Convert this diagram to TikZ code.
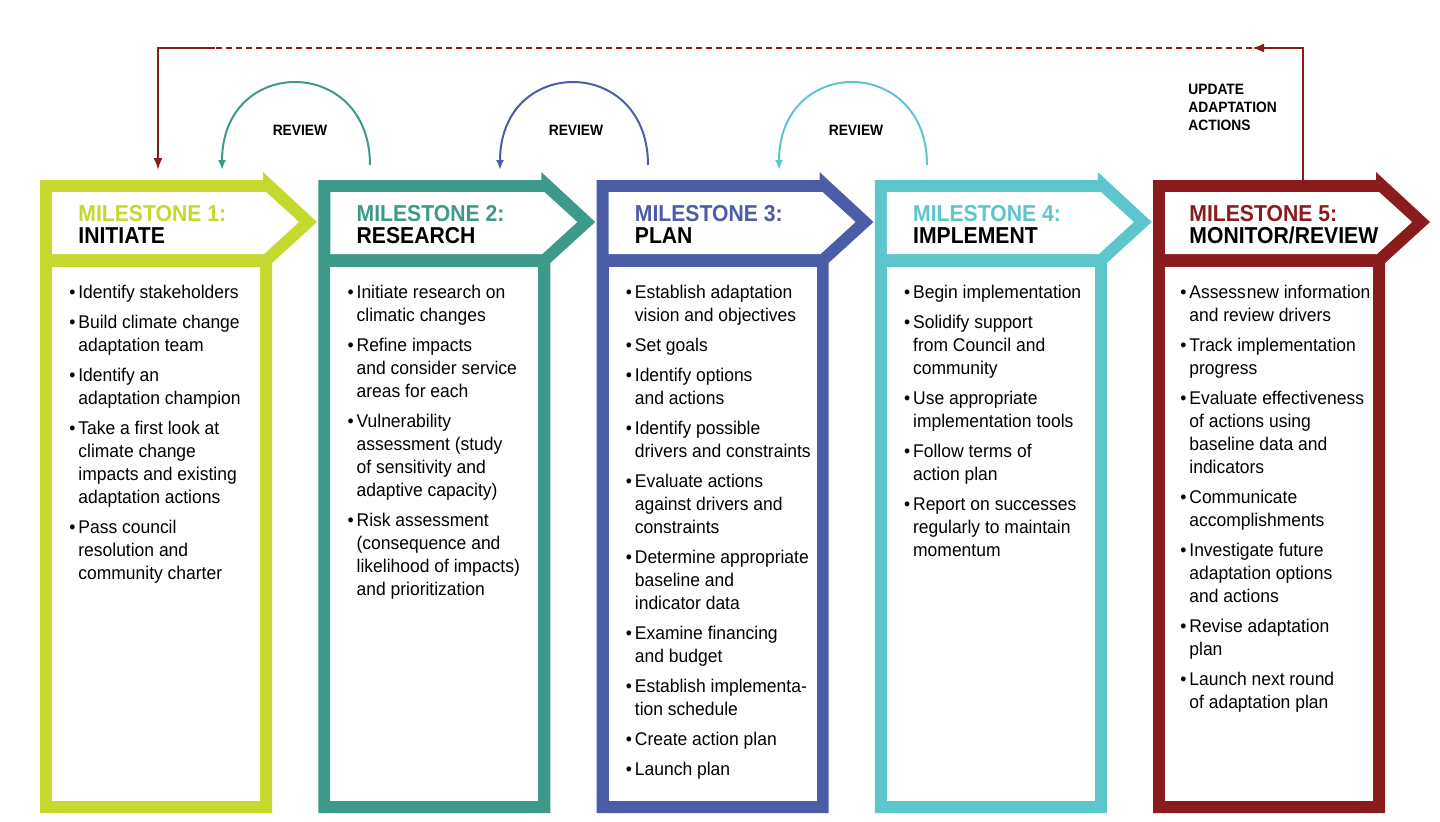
\documentclass[tikz,border=0pt]{standalone}
\usepackage{fontspec}
\setmainfont{Liberation Sans}
\newfontfamily\bodyfont{Liberation Sans}[FakeStretch=0.95]
\newfontfamily\headfont{Liberation Sans}[FakeStretch=0.92]
\usetikzlibrary{arrows.meta,positioning}
\definecolor{limecol}{HTML}{C4D82E}
\definecolor{tealcol}{HTML}{3D9A8B}
\definecolor{indigocol}{HTML}{4B5DA6}
\definecolor{cyancol}{HTML}{5CC6CC}
\definecolor{redcol}{HTML}{8A1C1C}
\newcommand{\pitch}{278.25}
\newcommand{\igap}{3.5pt}
\newcommand{\itm}{\llap{\textbullet\hspace{1.5pt}}}
\newcommand{\msframe}[1]{%
\fill[#1] (0,180) -- (223,180) -- (223,172) -- (277,222) -- (232,263) -- (232,813) -- (0,813) -- cycle;
\fill[white] (12,192) -- (226,192) -- (259,222) -- (224,254) -- (12,254) -- cycle;
\fill[white] (12,267) rectangle (220,801);}

\begin{document}
\begin{tikzpicture}[x=0.5pt,y=-0.5pt,
  headtxt/.style={anchor=north west,inner sep=0pt,align=left,font=\headfont\bfseries\fontsize{11.5}{11}\selectfont},
  bodytxt/.style={anchor=north west,inner sep=0pt,align=left,font=\bodyfont\fontsize{9.2}{11.5}\selectfont},
  smalllbl/.style={inner sep=0pt,font=\headfont\bfseries\fontsize{7.5}{9}\selectfont},
  revarrow/.style={line width=1pt,-{Latex[length=5pt,width=4pt]}},
  looparrow/.style={redcol,line width=1pt}]
\useasboundingbox (0,0) rectangle (1440,821);
%1
\begin{scope}[shift={(40,0)}]
\msframe{limecol}
\node[headtxt] (h1) at (38,205) {\textcolor{limecol}{MILESTONE 1:}\\INITIATE};
\node[bodytxt] (b1) at (38,285) {\itm Identify stakeholders\\[\igap]
\itm Build climate change\\adaptation team\\[\igap]
\itm Identify an\\adaptation champion\\[\igap]
\itm Take a first look at\\climate change\\impacts and existing\\adaptation actions\\[\igap]
\itm Pass council\\resolution and\\community charter};
\end{scope}
%2
\begin{scope}[shift={(40+\pitch,0)}]
\msframe{tealcol}
\node[headtxt] (h2) at (38,205) {\textcolor{tealcol}{MILESTONE 2:}\\RESEARCH};
\node[bodytxt] (b2) at (38,285) {\itm Initiate research on\\climatic changes\\[\igap]
\itm Refine impacts\\and consider service\\areas for each\\[\igap]
\itm Vulnerability\\assessment (study\\of sensitivity and\\adaptive capacity)\\[\igap]
\itm Risk assessment\\(consequence and\\likelihood of impacts)\\and prioritization};
\end{scope}
%3
\begin{scope}[shift={(40+2*\pitch,0)}]
\msframe{indigocol}
\node[headtxt] (h3) at (38,205) {\textcolor{indigocol}{MILESTONE 3:}\\PLAN};
\node[bodytxt] (b3) at (38,285) {\itm Establish adaptation\\vision and objectives\\[\igap]
\itm Set goals\\[\igap]
\itm Identify options\\and actions\\[\igap]
\itm Identify possible\\drivers and constraints\\[\igap]
\itm Evaluate actions\\against drivers and\\constraints\\[\igap]
\itm Determine appropriate\\baseline and\\indicator data\\[\igap]
\itm Examine financing\\and budget\\[\igap]
\itm Establish implementa-\\tion schedule\\[\igap]
\itm Create action plan\\[\igap]
\itm Launch plan};
\end{scope}
%4
\begin{scope}[shift={(40+3*\pitch,0)}]
\msframe{cyancol}
\node[headtxt] (h4) at (38,205) {\textcolor{cyancol}{MILESTONE 4:}\\IMPLEMENT};
\node[bodytxt] (b4) at (38,285) {\itm Begin implementation\\[\igap]
\itm Solidify support\\from Council and\\community\\[\igap]
\itm Use appropriate\\implementation tools\\[\igap]
\itm Follow terms of\\action plan\\[\igap]
\itm Report on successes\\regularly to maintain\\momentum};
\end{scope}
%5
\begin{scope}[shift={(40+4*\pitch,0)}]
\msframe{redcol}
\node[headtxt] (h5) at (36,205) {\textcolor{redcol}{MILESTONE 5:}\\MONITOR/REVIEW};
\node[bodytxt] (b5) at (36,285) {\itm Assess\hspace{0.6pt}new information\\and review drivers\\[\igap]
\itm Track implementation\\progress\\[\igap]
\itm Evaluate effectiveness\\of actions using\\baseline data and\\indicators\\[\igap]
\itm Communicate\\accomplishments\\[\igap]
\itm Investigate future\\adaptation options\\and actions\\[\igap]
\itm Revise adaptation\\plan\\[\igap]
\itm Launch next round\\of adaptation plan};
\end{scope}
%review loops
\coordinate (rv1s) at (370,165);
\coordinate (rv1e) at (222,170);
\coordinate (rv2s) at (648,165);
\coordinate (rv2e) at (500,170);
\coordinate (rv3s) at (927,165);
\coordinate (rv3e) at (779,170);
\draw[revarrow,tealcol] (rv1s) .. controls +(0,-110) and +(0,-115) .. (rv1e);
\draw[revarrow,indigocol] (rv2s) .. controls +(0,-110) and +(0,-115) .. (rv2e);
\draw[revarrow,cyancol] (rv3s) .. controls +(0,-110) and +(0,-115) .. (rv3e);
\node[smalllbl] (rl1) at (300,130) {REVIEW};
\node[smalllbl] (rl2) at (576,130) {REVIEW};
\node[smalllbl] (rl3) at (856,130) {REVIEW};
%update
\coordinate (upd) at (1303,180);
\coordinate (updc) at (1303,48);
\coordinate (updh) at (1252,48);
\coordinate (updd) at (215,48);
\coordinate (retc) at (158,48);
\coordinate (ret) at (158,170);
\draw[looparrow,-{Latex[length=6pt,width=4.5pt]}] (upd) -- (updc) -- (updh);
\draw[looparrow,line width=0.8pt,dash pattern=on 3pt off 2pt] (updh) -- (updd);
\draw[looparrow,-{Latex[length=6pt,width=4.5pt]}] (updd) -- (retc) -- (ret);
\node[smalllbl,anchor=north west,align=left] (upl) at (1188,84) {UPDATE\\ADAPTATION\\ACTIONS};
\end{tikzpicture}
\end{document}
